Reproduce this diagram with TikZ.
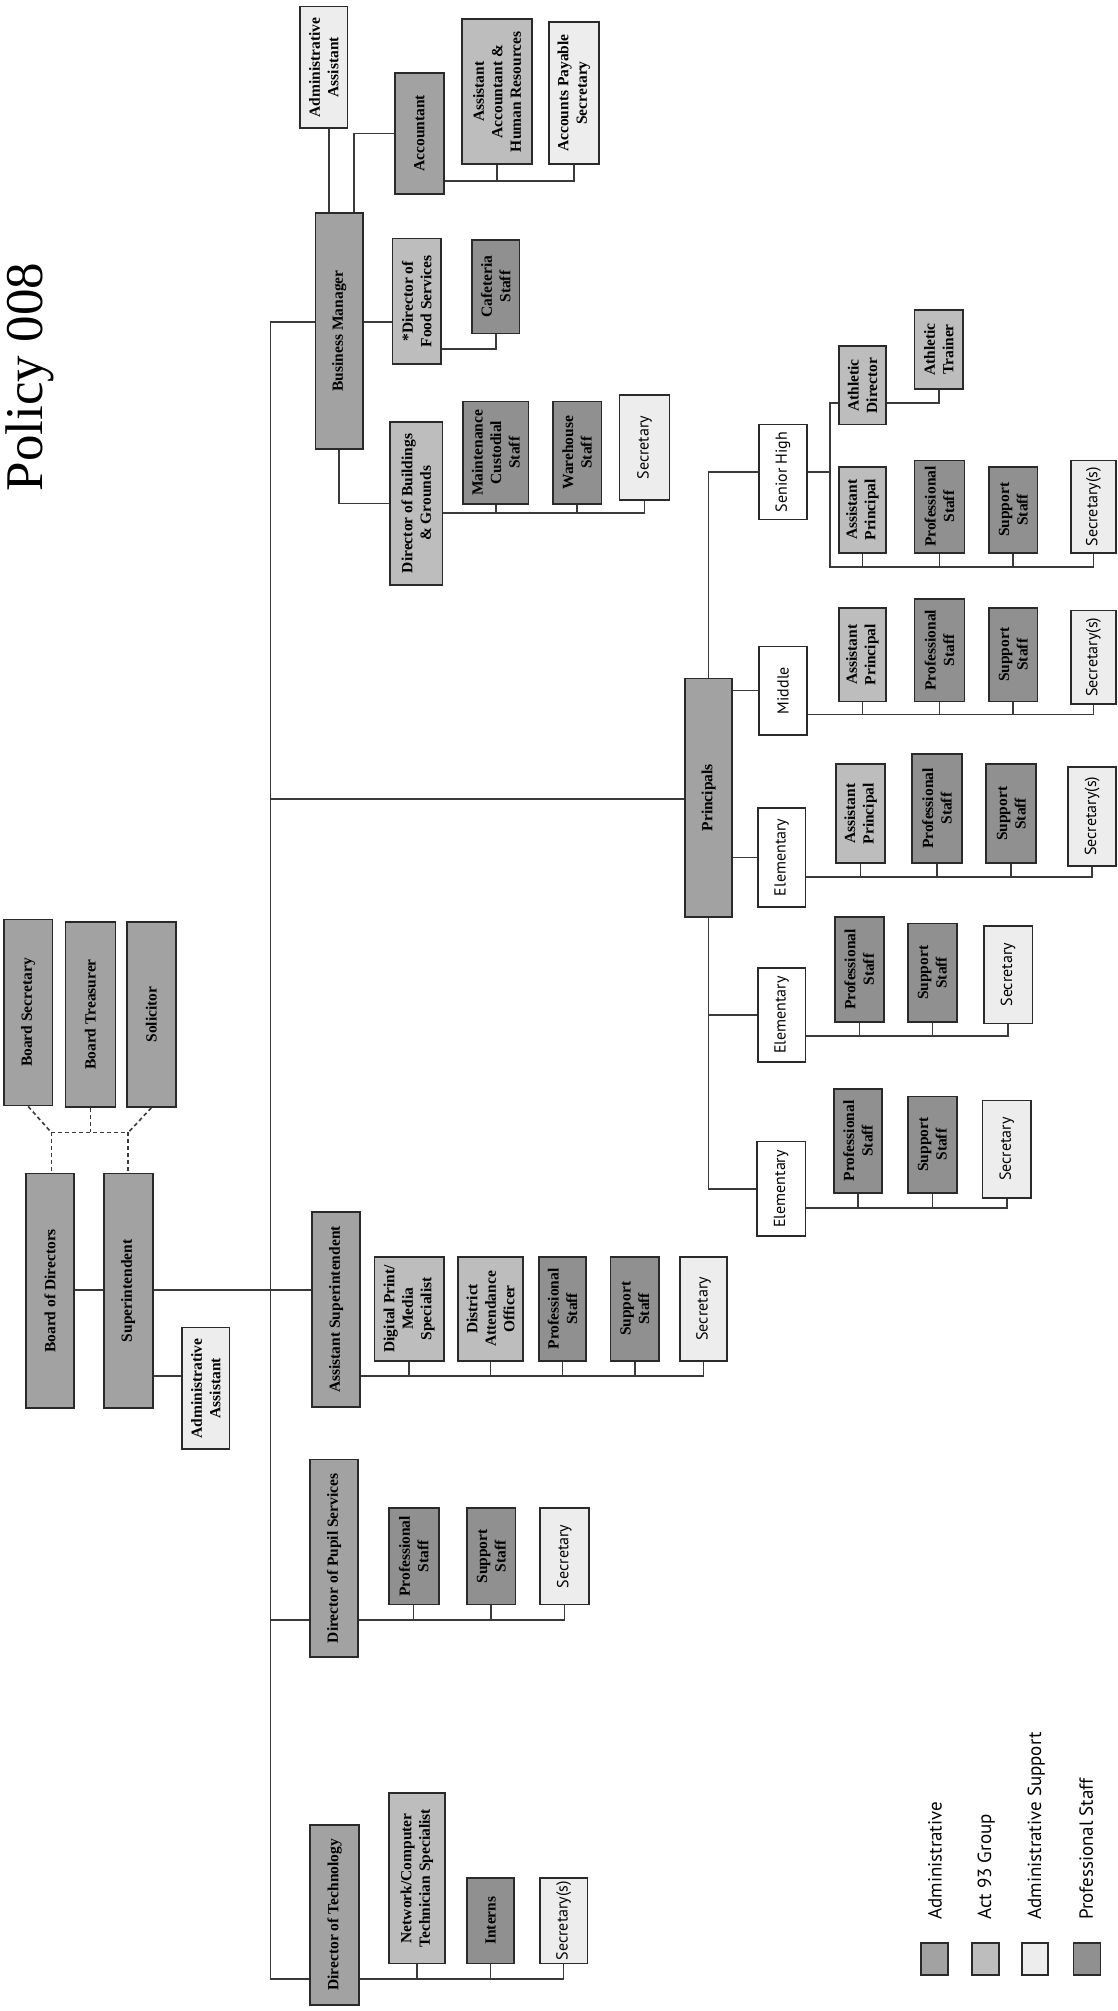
\documentclass[tikz,border=0pt]{standalone}
\usepackage{fontspec}
\setmainfont{Liberation Serif}
\setsansfont{PT Sans}
\usetikzlibrary{fit, calc}
\definecolor{cadm}{HTML}{A2A2A2}
\definecolor{cact}{HTML}{BDBDBD}
\definecolor{csup}{HTML}{EDEDED}
\definecolor{cpro}{HTML}{909090}
\definecolor{cedge}{HTML}{2A2A2A}
\definecolor{cline}{HTML}{3A3A3A}

\begin{document}
\begin{tikzpicture}[x=1.2825pt, y=-1.2825pt,
  box/.style={draw=cedge, line width=1.8pt, fill=#1, inner sep=0pt},
  txt/.style={rotate=90, align=center, inner sep=0pt,
              font=\bfseries\fontsize{15.5}{18.5}\selectfont},
  stxt/.style={rotate=90, align=center, inner sep=0pt,
               font=\sffamily\fontsize{16}{19}\selectfont},
  ln/.style={draw=cline, line width=1.6pt},
  dln/.style={ln, dash pattern=on 4pt off 3pt},
  lgtxt/.style={rotate=90, anchor=west, inner sep=0pt,
                font=\sffamily\fontsize{19}{22}\selectfont},
  title/.style={rotate=90, inner sep=0pt, font=\fontsize{53}{60}\selectfont}
]
\useasboundingbox (0,0) rectangle (871,1568);
\fill[white] (0,0) rectangle (871,1568);

\node[title] (ttl) at (23.5,294) {Policy 008};

%% Business office
\node[box=csup, fit={(234,5)(271,100)},   label={[txt]center:{Administrative\\Assistant}}] (aabm) {};
\node[box=cadm, fit={(246,166)(283,350)}, label={[txt]center:Business Manager}] (bm) {};
\node[box=cadm, fit={(308,57)(346,151)},  label={[txt]center:Accountant}] (acct) {};
\node[box=cact, fit={(360,15)(415,128)},  label={[txt]center:{Assistant\\Accountant \&\\Human Resources}}] (asacct) {};
\node[box=csup, fit={(428,17)(467,128)},  label={[txt]center:{Accounts Payable\\Secretary}}] (apsec) {};
\node[box=cact, fit={(306,186)(344,284)}, label={[txt]center:{*Director of\\Food Services}}] (food) {};
\node[box=cpro, fit={(368,187)(405,260)}, label={[txt]center:{Cafeteria\\Staff}}] (cafe) {};
\node[box=cact, fit={(304,329)(345,456)}, label={[txt]center:{Director of Buildings\\\& Grounds}}] (bldg) {};
\node[box=cpro, fit={(361,313)(412,393)}, label={[txt]center:{Maintenance\\Custodial\\Staff}}] (maint) {};
\node[box=cpro, fit={(431,313)(469,393)}, label={[txt]center:{Warehouse\\Staff}}] (ware) {};
\node[box=csup, fit={(483,308)(522,390)}, label={[stxt]center:Secretary}] (secbg) {};

%% Principals
\node[box=cadm,  fit={(534,529)(571,715)}, label={[txt]center:Principals}] (prin) {};
\node[box=white, fit={(592,331)(629,405)}, label={[stxt]center:Senior High}] (sh) {};
\node[box=white, fit={(592,504)(629,573)}, label={[stxt]center:Middle}] (mid) {};
\node[box=white, fit={(591,630)(628,707)}, label={[stxt]center:Elementary}] (el1) {};
\node[box=white, fit={(591,755)(628,828)}, label={[stxt]center:Elementary}] (el2) {};
\node[box=white, fit={(590,890)(628,964)}, label={[stxt]center:Elementary}] (el3) {};

\node[box=cact, fit={(654,270)(691,331)}, label={[txt]center:{Athletic\\Director}}] (athdir) {};
\node[box=cact, fit={(713,242)(751,303)}, label={[txt]center:{Athletic\\Trainer}}] (athtr) {};
\node[box=cact, fit={(654,364)(691,431)}, label={[txt]center:{Assistant\\Principal}}] (shap) {};
\node[box=cpro, fit={(713,359)(752,431)}, label={[txt]center:{Professional\\Staff}}] (shpro) {};
\node[box=cpro, fit={(771,364)(809,431)}, label={[txt]center:{Support\\Staff}}] (shsup) {};
\node[box=csup, fit={(835,359)(870,431)}, label={[stxt]center:Secretary(s)}] (shsec) {};

\node[box=cact, fit={(654,474)(691,547)}, label={[txt]center:{Assistant\\Principal}}] (mdap) {};
\node[box=cpro, fit={(713,467)(752,547)}, label={[txt]center:{Professional\\Staff}}] (mdpro) {};
\node[box=cpro, fit={(771,474)(809,547)}, label={[txt]center:{Support\\Staff}}] (mdsup) {};
\node[box=csup, fit={(835,476)(870,549)}, label={[stxt]center:Secretary(s)}] (mdsec) {};

\node[box=cact, fit={(652,596)(690,673)}, label={[txt]center:{Assistant\\Principal}}] (e1ap) {};
\node[box=cpro, fit={(711,588)(750,673)}, label={[txt]center:{Professional\\Staff}}] (e1pro) {};
\node[box=cpro, fit={(769,596)(808,673)}, label={[txt]center:{Support\\Staff}}] (e1sup) {};
\node[box=csup, fit={(833,598)(870,675)}, label={[stxt]center:Secretary(s)}] (e1sec) {};

\node[box=cpro, fit={(651,715)(689,797)}, label={[txt]center:{Professional\\Staff}}] (e2pro) {};
\node[box=cpro, fit={(708,720)(746,797)}, label={[txt]center:{Support\\Staff}}] (e2sup) {};
\node[box=csup, fit={(767,722)(805,798)}, label={[stxt]center:Secretary}] (e2sec) {};

\node[box=cpro, fit={(650,849)(688,930)}, label={[txt]center:{Professional\\Staff}}] (e3pro) {};
\node[box=cpro, fit={(708,855)(746,930)}, label={[txt]center:{Support\\Staff}}] (e3sup) {};
\node[box=csup, fit={(766,858)(804,934)}, label={[stxt]center:Secretary}] (e3sec) {};

%% Board
\node[box=cadm, fit={(3,717)(41,862)},   label={[txt]center:Board Secretary}] (bsec) {};
\node[box=cadm, fit={(51,719)(90,863)},  label={[txt]center:Board Treasurer}] (btre) {};
\node[box=cadm, fit={(99,719)(137,863)}, label={[txt]center:Solicitor}] (sol) {};
\node[box=cadm, fit={(20,915)(58,1098)}, label={[txt]center:Board of Directors}] (bod) {};
\node[box=cadm, fit={(81,915)(119,1098)}, label={[txt]center:Superintendent}] (supt) {};
\node[box=csup, fit={(142,1035)(179,1130)}, label={[txt]center:{Administrative\\Assistant}}] (aasup) {};

%% Assistant superintendent
\node[box=cadm, fit={(243,945)(281,1097)}, label={[txt]center:Assistant Superintendent}] (asup) {};
\node[box=cact, fit={(292,980)(346,1061)}, label={[txt]center:{Digital Print/\\Media\\Specialist}}] (dig) {};
\node[box=cact, fit={(357,980)(408,1061)}, label={[txt]center:{District\\Attendance\\Officer}}] (dao) {};
\node[box=cpro, fit={(420,980)(457,1061)}, label={[txt]center:{Professional\\Staff}}] (asp) {};
\node[box=cpro, fit={(476,980)(514,1061)}, label={[txt]center:{Support\\Staff}}] (ass) {};
\node[box=csup, fit={(530,980)(567,1061)}, label={[stxt]center:Secretary}] (asc) {};

%% Pupil services
\node[box=cadm, fit={(242,1138)(279,1292)}, label={[txt]center:Director of Pupil Services}] (pupil) {};
\node[box=cpro, fit={(303,1176)(342,1251)}, label={[txt]center:{Professional\\Staff}}] (ppro) {};
\node[box=cpro, fit={(364,1176)(402,1251)}, label={[txt]center:{Support\\Staff}}] (psup) {};
\node[box=csup, fit={(421,1176)(459,1251)}, label={[stxt]center:Secretary}] (psec) {};

%% Technology
\node[box=cadm, fit={(242,1423)(280,1563)}, label={[txt]center:Director of Technology}] (tech) {};
\node[box=cact, fit={(303,1398)(347,1531)}, label={[txt]center:{Network/Computer\\Technician Specialist}}] (net) {};
\node[box=cpro, fit={(364,1464)(401,1531)}, label={[txt]center:Interns}] (intern) {};
\node[box=csup, fit={(421,1464)(458,1531)}, label={[stxt]center:Secretary(s)}] (tsec) {};

%% Legend
\node[box=cadm, fit={(718,1515)(739,1540)}] (lg1) {};
\node[box=cact, fit={(758,1515)(779,1540)}] (lg2) {};
\node[box=csup, fit={(797,1515)(817,1540)}] (lg3) {};
\node[box=cpro, fit={(837,1515)(858,1540)}] (lg4) {};
\node[lgtxt] (lgt1) at (729,1497) {Administrative};
\node[lgtxt] (lgt2) at (769,1497) {Act 93 Group};
\node[lgtxt] (lgt3) at (808,1497) {Administrative Support};
\node[lgtxt] (lgt4) at (847,1497) {Professional Staff};

%% Junctions
\coordinate (trk)   at (211,251);
\coordinate (accbus) at (0,141);
\coordinate (cafy)  at (0,272);
\coordinate (bgbus) at (0,400);
\coordinate (prny)  at (0,623);
\coordinate (shv)   at (647,442);
\coordinate (athy)  at (0,314);
\coordinate (mdbus) at (0,557);
\coordinate (e1bus) at (0,684);
\coordinate (e2bus) at (0,808);
\coordinate (e3bus) at (0,942);
\coordinate (bjl)   at (40,883);
\coordinate (bjr)   at (100,883);
\coordinate (supy)  at (0,1006);
\coordinate (asbus) at (0,1073);
\coordinate (ppbus) at (0,1263);
\coordinate (tcbus) at (0,1543);

%% Trunk and business office
\draw[ln] (bm.west |- trk) -- (trk) |- (tech.west |- tcbus);
\draw[ln] (bm.east |- trk) -- (food.west |- trk);
\draw[ln] ($(aabm.south)+(4,0)$) -- ($(aabm.south |- bm.north)+(4,0)$);
\draw[ln] (acct.west) -| ($(bm.north)+(11.5,0)$);
\draw[ln] (acct.east |- accbus) -| (apsec.south);
\draw[ln] (asacct.south) -- (asacct.south |- accbus);
\draw[ln] (food.east |- cafy) -| (cafe.south);
\draw[ln] (bm.south) |- (bldg.west);
\draw[ln] (bldg.east |- bgbus) -| (secbg.south);
\foreach \n in {maint, ware} \draw[ln] (\n.south) -- (\n.south |- bgbus);

%% Principals
\draw[ln] (trk |- prny) -- (prin.west |- prny);
\draw[ln] (prin.north) |- (sh.west);
\draw[ln] (prin.east |- mid.west) -- (mid.west);
\draw[ln] (prin.east |- el1.west) -- (el1.west);
\draw[ln] (prin.south) |- (el3.west);
\draw[ln] (prin.south |- el2.west) -- (el2.west);

\draw[ln] (sh.east) -- (sh.east -| shv);
\draw[ln] (athdir.west |- athy) -| (shv) -| (shsec.south);
\draw[ln] (athdir.east |- athy) -| (athtr.south);
\foreach \n in {shap, shpro, shsup} \draw[ln] (\n.south) -- (\n.south |- shv);

\draw[ln] (mid.east |- mdbus) -| (mdsec.south);
\foreach \n in {mdap, mdpro, mdsup} \draw[ln] (\n.south) -- (\n.south |- mdbus);
\draw[ln] (el1.east |- e1bus) -| (e1sec.south);
\foreach \n in {e1ap, e1pro, e1sup} \draw[ln] (\n.south) -- (\n.south |- e1bus);
\draw[ln] (el2.east |- e2bus) -| (e2sec.south);
\foreach \n in {e2pro, e2sup} \draw[ln] (\n.south) -- (\n.south |- e2bus);
\draw[ln] (el3.east |- e3bus) -| (e3sec.south);
\foreach \n in {e3pro, e3sup} \draw[ln] (\n.south) -- (\n.south |- e3bus);

%% Board
\draw[dln] (bsec.south) -- (bjl);
\draw[dln] (btre.south) -- (btre.south |- bjl);
\draw[dln] (sol.south) -- (bjr);
\draw[dln] (bjl) -- (bjr);
\draw[dln] (bjl) -- (bjl |- bod.north);
\draw[dln] (bjr) -- (bjr |- supt.north);
\draw[ln] (bod.east |- supy) -- (supt.west |- supy);
\draw[ln] (supt.east |- supy) -- (asup.west |- supy);
\draw[ln] (supt.east |- asbus) -- (aasup.west |- asbus);

%% Assistant superintendent
\draw[ln] (asup.east |- asbus) -| (asc.south);
\foreach \n in {dig, dao, asp, ass} \draw[ln] (\n.south) -- (\n.south |- asbus);

%% Pupil services and technology
\draw[ln] (trk |- ppbus) -- (pupil.west |- ppbus);
\draw[ln] (pupil.east |- ppbus) -| (psec.south);
\foreach \n in {ppro, psup} \draw[ln] (\n.south) -- (\n.south |- ppbus);
\draw[ln] (tech.east |- tcbus) -| (tsec.south);
\foreach \n in {net, intern} \draw[ln] (\n.south) -- (\n.south |- tcbus);

\end{tikzpicture}
\end{document}
